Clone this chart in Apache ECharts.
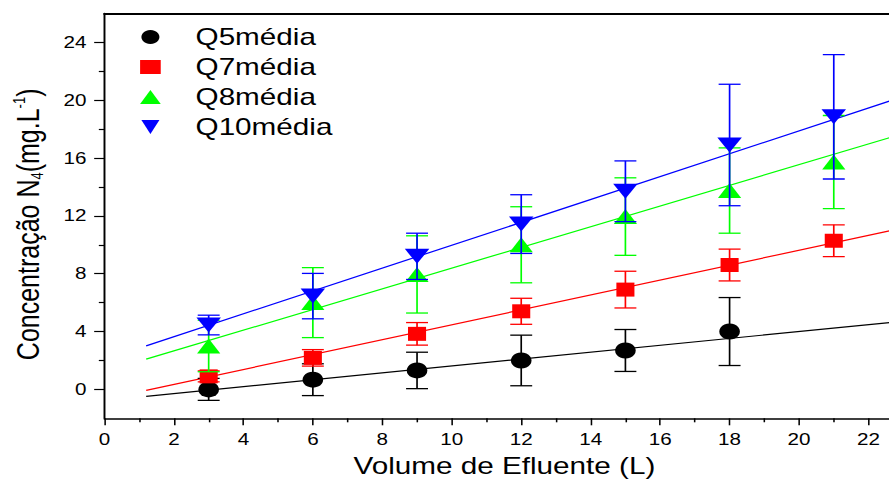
<!DOCTYPE html>
<html>
<head>
<meta charset="utf-8">
<script src="https://cdn.jsdelivr.net/npm/echarts@6/dist/echarts.min.js"></script>
<style>
html,body{margin:0;padding:0;overflow:hidden;background:#fff;width:889px;height:484px;}
#chart{position:absolute;left:0;top:0;width:760px;height:484px;transform:scaleX(1.29);transform-origin:0 0;}
</style>
</head>
<body>
<div id="chart"></div>
<script>
// ---- data ----
const xVals = [3, 6, 9, 12, 15, 18, 21];
const q5Mean  = [0.0, 0.67, 1.31, 2.0, 2.69, 4.0];
const q5Err   = [0.76, 1.1, 1.26, 1.75, 1.45, 2.35];
const q7Mean  = [0.9, 2.18, 3.84, 5.4, 6.9, 8.6, 10.28];
const q7Err   = [0.38, 0.57, 0.78, 0.9, 1.27, 1.1, 1.1];
const q8Mean  = [3.0, 6.0, 7.95, 10.0, 11.95, 13.75, 15.72];
const q8Err   = [1.78, 2.42, 2.67, 2.63, 2.68, 2.95, 3.22];
const q10Mean = [4.45, 6.45, 9.2, 11.43, 13.7, 16.9, 18.85];
const q10Err  = [0.68, 1.57, 1.6, 2.03, 2.1, 4.2, 4.3];
// linear fit lines (endpoints)
const fitX   = [1.2, 22.6];
const fitQ5  = [-0.48, 4.62];
const fitQ7  = [-0.07, 10.96];
const fitQ8  = [2.09, 17.4];
const fitQ10 = [3.01, 19.93];
const seriesNames = ['Q5média', 'Q7média', 'Q8média', 'Q10média'];
const xTickLabels = [0, 2, 4, 6, 8, 10, 12, 14, 16, 18, 20, 22];
const yTickLabels = [0, 4, 8, 12, 16, 20, 24];
const yMinorTicks = [2, 6, 10, 14, 18, 22];

const colors = ['#000000', '#ff0000', '#00ff00', '#0000ff'];
const downTri = 'path://M0,0L10,0L5,10Z';
const symbols = ['circle', 'rect', 'triangle', downTri];
const symSizes = [[16, 16], [14, 14], [18, 15], [19, 15]];
const means = [q5Mean, q7Mean, q8Mean, q10Mean];
const errs = [q5Err, q7Err, q8Err, q10Err];
const fits = [fitQ5, fitQ7, fitQ8, fitQ10];
const FONT = 'Liberation Sans, Arial, sans-serif';

function errRender(color) {
  return function (params, api) {
    const x = api.value(0), lo = api.value(1), hi = api.value(2);
    const pLo = api.coord([x, lo]);
    const pHi = api.coord([x, hi]);
    const hw = 8.5;
    const style = { stroke: color, lineWidth: 1.3, fill: null };
    return {
      type: 'group',
      children: [
        { type: 'line', shape: { x1: pLo[0], y1: pLo[1], x2: pHi[0], y2: pHi[1] }, style: style },
        { type: 'line', shape: { x1: pLo[0] - hw, y1: pLo[1], x2: pLo[0] + hw, y2: pLo[1] }, style: style },
        { type: 'line', shape: { x1: pHi[0] - hw, y1: pHi[1], x2: pHi[0] + hw, y2: pHi[1] }, style: style }
      ]
    };
  };
}

const series = [];
for (let i = 0; i < 4; i++) {
  series.push({
    type: 'line', name: seriesNames[i] + ' fit', xAxisIndex: 0, yAxisIndex: 0,
    data: fitX.map((x, k) => [x, fits[i][k]]),
    symbol: 'none', silent: true, z: 1,
    lineStyle: { color: colors[i], width: 1.2 }
  });
}
for (let i = 0; i < 4; i++) {
  const m = means[i], e = errs[i];
  series.push({
    type: 'custom', name: seriesNames[i] + ' err', xAxisIndex: 0, yAxisIndex: 0,
    renderItem: errRender(colors[i]),
    encode: { x: 0, y: [1, 2] },
    data: m.map((v, k) => [xVals[k], v - e[k], v + e[k]]),
    z: 2 + i * 2, silent: true
  });
  series.push({
    type: 'scatter', name: seriesNames[i], xAxisIndex: 0, yAxisIndex: 0,
    data: m.map((v, k) => [xVals[k], v]),
    symbol: symbols[i], symbolSize: symSizes[i],
    itemStyle: { color: colors[i], opacity: 1 },
    z: 3 + i * 2
  });
}

const chart = echarts.init(document.getElementById('chart'), null, { renderer: 'svg' });
chart.setOption({
  animation: false,
  backgroundColor: '#ffffff',
  textStyle: { fontFamily: FONT, color: '#000' },
  grid: [
    { left: 80.6, top: 13.4, width: 646.5, height: 404.9, containLabel: false },
    { left: 80.6, top: 13.4, width: 646.5, height: 404.9, containLabel: false }
  ],
  legend: {
    orient: 'vertical', left: 103.6, top: 20, itemGap: 6,
    itemWidth: 16, itemHeight: 14,
    data: seriesNames.map((n, i) => ({ name: n, icon: symbols[i], itemStyle: { color: colors[i] } })),
    textStyle: { fontFamily: FONT, fontSize: 23, color: '#000', lineHeight: 24, padding: [0, 0, 0, 22] },
    selectedMode: false
  },
  xAxis: [
    {
      type: 'value', gridIndex: 0, position: 'bottom', min: 0, max: 24, interval: 2,
      axisLine: { show: true, onZero: false, lineStyle: { color: '#000', width: 1.5 } },
      axisTick: { show: true, length: 7, lineStyle: { color: '#000', width: 1.2 } },
      minorTick: { show: true, splitNumber: 2, length: 4, lineStyle: { color: '#000', width: 1.2 } },
      axisLabel: { fontFamily: FONT, fontSize: 16, color: '#000', margin: 13, customValues: xTickLabels },
      splitLine: { show: false },
      name: 'Volume de Efluente (L)', nameLocation: 'middle', nameGap: 36,
      nameTextStyle: { fontFamily: FONT, fontSize: 23, color: '#000', padding: [0, 26, 0, 0] }
    },
    {
      type: 'value', gridIndex: 0, position: 'top', min: 0, max: 24, interval: 2,
      axisLine: { show: true, onZero: false, lineStyle: { color: '#000', width: 2 } },
      axisTick: { show: false }, axisLabel: { show: false }, splitLine: { show: false }
    },
    {
      type: 'value', gridIndex: 1, min: 0, max: 24, show: false
    }
  ],
  yAxis: [
    {
      type: 'value', gridIndex: 0, position: 'left', min: -2, max: 26, interval: 2,
      axisLine: { show: true, onZero: false, lineStyle: { color: '#000', width: 1.5 } },
      axisTick: { show: true, length: 8, customValues: yTickLabels, lineStyle: { color: '#000', width: 1.2 } },
      axisLabel: { fontFamily: FONT, fontSize: 16, color: '#000', margin: 14, customValues: yTickLabels },
      splitLine: { show: false },
      name: 'Concentração N{sub|4}(mg.L{sup|-1})',
      nameLocation: 'middle', nameGap: 46,
      nameTextStyle: {
        fontFamily: FONT, fontSize: 25, color: '#000', padding: [0, 17, 0, 0],
        rich: {
          sub: { fontFamily: FONT, fontSize: 13, color: '#000', padding: [14, 0, 0, 0] },
          sup: { fontFamily: FONT, fontSize: 13, color: '#000', padding: [0, 0, 14, 0] }
        }
      }
    },
    {
      type: 'value', gridIndex: 1, position: 'left', min: -2, max: 26, interval: 2,
      axisLine: { show: false, onZero: false },
      axisTick: { show: true, length: 4, customValues: yMinorTicks, lineStyle: { color: '#000', width: 1.2 } },
      axisLabel: { show: false }, splitLine: { show: false }
    }
  ],
  series: series
});
</script>
</body>
</html>
